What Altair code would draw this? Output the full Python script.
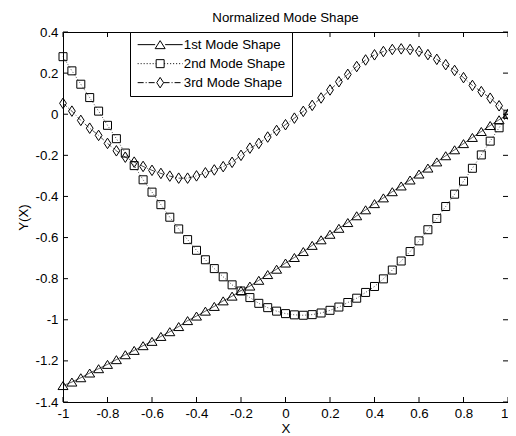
import altair as alt
import pandas as pd

# ---------------- data ----------------
x_vals = [-1.00, -0.96, -0.92, -0.88, -0.84, -0.80, -0.76, -0.72, -0.68, -0.64,
          -0.60, -0.56, -0.52, -0.48, -0.44, -0.40, -0.36, -0.32, -0.28, -0.24,
          -0.20, -0.16, -0.12, -0.08, -0.04, 0.00, 0.04, 0.08, 0.12, 0.16,
          0.20, 0.24, 0.28, 0.32, 0.36, 0.40, 0.44, 0.48, 0.52, 0.56,
          0.60, 0.64, 0.68, 0.72, 0.76, 0.80, 0.84, 0.88, 0.92, 0.96, 1.00]

mode1 = [-1.320, -1.303, -1.282, -1.259, -1.238, -1.217, -1.194, -1.170, -1.149, -1.126,
         -1.105, -1.081, -1.058, -1.033, -1.004, -0.982, -0.958, -0.935, -0.908, -0.885,
         -0.858, -0.836, -0.808, -0.780, -0.754, -0.724, -0.697, -0.668, -0.638, -0.611,
         -0.584, -0.555, -0.527, -0.494, -0.465, -0.435, -0.407, -0.377, -0.349, -0.320,
         -0.291, -0.262, -0.232, -0.202, -0.173, -0.143, -0.113, -0.084, -0.055, -0.027, 0.000]

mode2 = [0.280, 0.211, 0.146, 0.081, 0.015, -0.054, -0.119, -0.189, -0.250, -0.319,
         -0.379, -0.440, -0.501, -0.558, -0.610, -0.662, -0.708, -0.751, -0.791, -0.830,
         -0.860, -0.892, -0.920, -0.941, -0.958, -0.970, -0.976, -0.978, -0.975, -0.967,
         -0.954, -0.938, -0.916, -0.895, -0.867, -0.838, -0.801, -0.758, -0.714, -0.668,
         -0.616, -0.562, -0.507, -0.449, -0.389, -0.326, -0.263, -0.198, -0.131, -0.066, 0.000]

mode3 = [0.053, 0.015, -0.030, -0.068, -0.103, -0.142, -0.178, -0.209, -0.233, -0.254,
         -0.273, -0.288, -0.301, -0.311, -0.311, -0.300, -0.285, -0.271, -0.255, -0.234,
         -0.200, -0.165, -0.142, -0.111, -0.079, -0.051, -0.019, 0.014, 0.043, 0.079,
         0.118, 0.158, 0.194, 0.232, 0.264, 0.289, 0.305, 0.315, 0.318, 0.315,
         0.306, 0.290, 0.267, 0.241, 0.213, 0.178, 0.140, 0.110, 0.078, 0.041, 0.000]

series_names = ["1st Mode Shape", "2nd Mode Shape", "3rd Mode Shape"]
x_ticks = [-1, -0.8, -0.6, -0.4, -0.2, 0, 0.2, 0.4, 0.6, 0.8, 1]
y_ticks = [-1.4, -1.2, -1, -0.8, -0.6, -0.4, -0.2, 0, 0.2, 0.4]

# ---------------- build table ----------------
rows = []
for name, vals in zip(series_names, [mode1, mode2, mode3]):
    for xv, yv in zip(x_vals, vals):
        rows.append({"x": xv, "y": yv, "series": name, "series_leg": name})
df = pd.DataFrame(rows)

X_DOM = [-1, 1]
Y_DOM = [-1.4, 0.4]
W, H = 445, 370
FONT = "Liberation Sans"
FS = 13.3

# marker paths (unit = 5 px at size 100)
tri = "M0,-0.8L1,0.8L-1,0.8Z"
sq = "M-0.8,-0.8L0.8,-0.8L0.8,0.8L-0.8,0.8Z"
dia = "M0,-1.05L0.68,0L0,1.05L-0.68,0Z"
marker_paths = [tri, sq, dia]


def dashed(a, b, pattern):
    """Line segments from a to b following an on/off pattern (legend sample)."""
    out = []
    pos = a
    i = 0
    while pos < b - 1e-9:
        ln = pattern[i % len(pattern)]
        end = min(pos + ln, b)
        if i % 2 == 0:
            out.append(f"M{pos:.3f},0L{end:.3f},0")
        pos = end
        i += 1
    return "".join(out)


L = 4.5
legend_paths = [
    dashed(-L, -1.0, [10]) + dashed(1.0, L, [10]) + tri,
    dashed(-L, -0.8, [0.2, 0.4]) + dashed(0.8, L, [0.2, 0.4]) + sq,
    dashed(-L, -0.68, [1.2, 0.4, 0.2, 0.4]) + dashed(0.68, L, [1.2, 0.4, 0.2, 0.4]) + dia,
]

xs = alt.Scale(domain=X_DOM, nice=False, zero=False)
ys = alt.Scale(domain=Y_DOM, nice=False, zero=False)

x_axis = alt.Axis(values=x_ticks, labelExpr="toString(datum.value)", ticks=False,
                  domain=False, grid=False, title="X", labelPadding=4,
                  titlePadding=2, labelFlush=False,
                  labelAlign=alt.ExprRef(expr="datum.value >= 1 ? 'right' : 'center'"))
y_axis = alt.Axis(values=y_ticks, labelExpr="toString(datum.value)", ticks=False,
                  domain=False, grid=False, title="Y(X)", labelPadding=5,
                  titlePadding=5, labelFlush=False)

base = alt.Chart(df)

lines = base.mark_line(color="black", strokeWidth=0.7).encode(
    x=alt.X("x:Q", scale=xs, axis=x_axis),
    y=alt.Y("y:Q", scale=ys, axis=y_axis),
    detail="series:N",
    strokeDash=alt.StrokeDash("series:N", scale=alt.Scale(domain=series_names,
                              range=[[1, 0], [1, 2], [5, 2, 1, 2]]), legend=None),
    order="x:Q",
)

points = base.mark_point(filled=False, color="black", strokeWidth=1, size=100, opacity=1).encode(
    x=alt.X("x:Q", scale=xs),
    y=alt.Y("y:Q", scale=ys),
    shape=alt.Shape("series:N", scale=alt.Scale(domain=series_names, range=marker_paths),
                    legend=None),
)

legend_layer = base.mark_point(filled=False, color="black", opacity=0, size=100).encode(
    x=alt.X("x:Q", scale=xs),
    y=alt.Y("y:Q", scale=ys),
    shape=alt.Shape("series_leg:N",
                    scale=alt.Scale(domain=series_names, range=legend_paths),
                    legend=alt.Legend(title=None, orient="none", legendX=67, legendY=0,
                                      symbolSize=100, symbolOffset=17.5, labelOffset=17,
                                      symbolStrokeWidth=1, symbolStrokeColor="black",
                                      symbolFillColor="transparent", symbolOpacity=1,
                                      labelFont=FONT, labelFontSize=FS, labelColor="black",
                                      padding=6, rowPadding=5, strokeColor="black",
                                      fillColor="white", labelLimit=300)),
)

# inward tick marks on all four sides (MATLAB box style)
tx = 5 * (X_DOM[1] - X_DOM[0]) / W
ty = 5 * (Y_DOM[1] - Y_DOM[0]) / H
bottom = pd.DataFrame({"x": x_ticks, "y": Y_DOM[0], "y2": Y_DOM[0] + ty})
top = pd.DataFrame({"x": x_ticks, "y": Y_DOM[1], "y2": Y_DOM[1] - ty})
left = pd.DataFrame({"y": y_ticks, "x": X_DOM[0], "x2": X_DOM[0] + tx})
right = pd.DataFrame({"y": y_ticks, "x": X_DOM[1], "x2": X_DOM[1] - tx})

tick_layers = []
for d in (bottom, top):
    tick_layers.append(alt.Chart(d).mark_rule(color="black", strokeWidth=1).encode(
        x=alt.X("x:Q", scale=xs), y=alt.Y("y:Q", scale=ys), y2="y2:Q"))
for d in (left, right):
    tick_layers.append(alt.Chart(d).mark_rule(color="black", strokeWidth=1).encode(
        y=alt.Y("y:Q", scale=ys), x=alt.X("x:Q", scale=xs), x2="x2:Q"))

chart = alt.layer(lines, points, legend_layer, *tick_layers).resolve_scale(
    shape="independent"
).properties(
    width=W, height=H,
    title=alt.TitleParams("Normalized Mode Shape", font=FONT, fontSize=FS,
                          fontWeight="normal", color="black", frame="group",
                          anchor="middle", offset=1),
    autosize=alt.AutoSizeParams(type="none"),
    padding={"left": 55, "top": 24, "right": 0, "bottom": 34},
    background="white",
).configure_view(
    stroke="black", strokeWidth=1
).configure_axis(
    labelFont=FONT, labelFontSize=FS, labelColor="black",
    titleFont=FONT, titleFontSize=FS, titleFontWeight="normal", titleColor="black",
)

chart.save("out.html", embed_options={"renderer": "svg", "actions": False})
